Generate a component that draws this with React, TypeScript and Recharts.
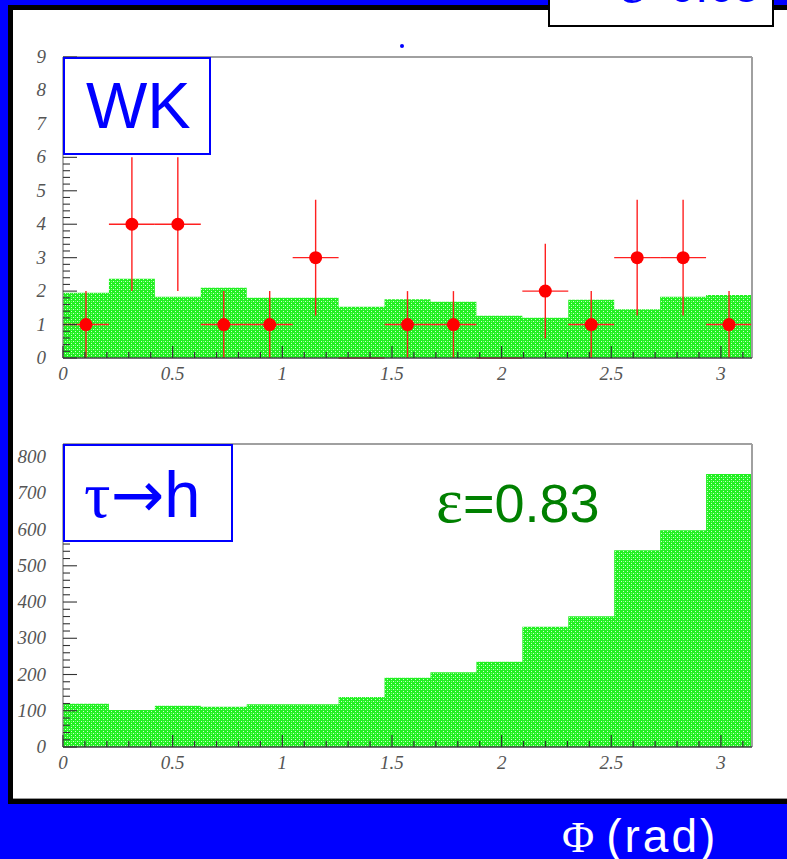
import React from 'react';
import { ComposedChart, Area, Scatter, ErrorBar, XAxis, YAxis, ReferenceLine } from 'recharts';

const PHI_MAX = Math.PI;

// WK panel: observed counts per bin (15 bins over 0..pi) and expected background histogram
const wkCounts = [1, 4, 4, 1, 1, 3, 0, 1, 1, 0, 2, 1, 3, 3, 1];
const wkExpected = [1.95, 2.37, 1.83, 2.1, 1.8, 1.8, 1.53, 1.76, 1.68, 1.26, 1.2, 1.74, 1.46, 1.83, 1.88];

// tau -> h panel histogram
const tauHadrons = [119, 102, 114, 111, 118, 118, 138, 191, 206, 235, 332, 361, 543, 598, 753];

// axis ticks
const xMajorTicks = [0, 0.5, 1, 1.5, 2, 2.5, 3];
const xMinorStep = 0.1;
const wkYMajorTicks = [0, 1, 2, 3, 4, 5, 6, 7, 8, 9];
const wkYMinorStep = 0.2;
const wkYMax = 9;
const tauYMajorTicks = [0, 100, 200, 300, 400, 500, 600, 700, 800];
const tauYMinorStep = 20;
const tauYMax = 836;

function steps(max: number, step: number): number[] {
  const out: number[] = [];
  for (let i = 0; i * step <= max + 1e-9; i++) out.push(Math.round(i * step * 1000) / 1000);
  return out;
}

function histData(values: number[]) {
  const w = PHI_MAX / values.length;
  const out = values.map((v, i) => ({ x: i * w, h: v }));
  out.push({ x: PHI_MAX, h: values[values.length - 1] });
  return out;
}

function pointData(counts: number[]) {
  const w = PHI_MAX / counts.length;
  return counts.map((n, i) => ({ x: (i + 0.5) * w, n, ex: w / 2, ey: Math.sqrt(n) }));
}

const isMajor = (list: number[], v: number) => list.some((m) => Math.abs(m - v) < 1e-6);

const labelStyle = {
  fontFamily: '"Liberation Serif", serif',
  fontStyle: 'italic' as const,
  fontSize: 19,
  fill: '#555',
};

const XTick = (props: any) => {
  const { x, y, payload } = props;
  const v = payload.value;
  const major = isMajor(xMajorTicks, v);
  return (
    <g>
      <line x1={x} x2={x} y1={y} y2={y - (major ? 12 : 6)} stroke="#333" strokeWidth={1.2} />
      {major && (
        <text x={x} y={y + 22} textAnchor="middle" {...labelStyle}>
          {String(v)}
        </text>
      )}
    </g>
  );
};

const makeYTick = (majors: number[]) => (props: any) => {
  const { x, y, payload } = props;
  const v = payload.value;
  const major = isMajor(majors, v);
  return (
    <g>
      <line x1={x} x2={x + (major ? 14 : 7)} y1={y} y2={y} stroke="#333" strokeWidth={1.1} />
      {major && (
        <text x={x - 17} y={y + 6} textAnchor="end" {...labelStyle}>
          {String(v)}
        </text>
      )}
    </g>
  );
};

const RedDot = (props: any) => {
  const { cx, cy, payload } = props;
  if (!payload || payload.n <= 0) return <g />;
  return <circle cx={cx} cy={cy} r={6.5} fill="#ff0000" />;
};

const NoShape = () => <g />;

const Pattern = ({ id }: { id: string }) => (
  <defs>
    <pattern id={id} width="4" height="4" patternUnits="userSpaceOnUse">
      <rect width="4" height="4" fill="#22f022" />
      <rect x="1" y="1" width="1" height="1" fill="#d0ffd0" />
      <rect x="3" y="3" width="1" height="1" fill="#d0ffd0" />
      <rect x="3" y="1" width="1" height="1" fill="#70ff70" />
    </pattern>
  </defs>
);

const xTicks = steps(3.1, xMinorStep);

export default function App() {
  const wkHist = histData(wkExpected);
  const wkPts = pointData(wkCounts);
  const tauHist = histData(tauHadrons);

  return (
    <div style={{ position: 'absolute', left: 0, top: 0, width: 787, height: 859, background: '#0000ff', overflow: 'hidden' }}>
      <div
        style={{
          position: 'absolute',
          left: 8,
          top: 5,
          width: 800,
          height: 789,
          border: '5px solid #000',
          background: '#fff',
          boxShadow: 'inset 0 -1px 0 #999',
        }}
      />

      <div style={{ position: 'absolute', left: 0, top: 0 }}>
        <ComposedChart width={787} height={400} margin={{ top: 57, right: 35, bottom: 41, left: 62 }}>
          <Pattern id="greenTop" />
          <Area
            data={wkHist}
            dataKey="h"
            type="stepAfter"
            fill="url(#greenTop)"
            fillOpacity={1}
            stroke="none"
            isAnimationActive={false}
          />
          <Scatter data={wkPts} dataKey="n" shape={NoShape} isAnimationActive={false}>
            <ErrorBar dataKey="ex" direction="x" width={0} stroke="#ff2020" strokeWidth={1.4} />
            <ErrorBar dataKey="ey" direction="y" width={0} stroke="#ff2020" strokeWidth={1.4} />
          </Scatter>
          <Scatter data={wkPts} dataKey="n" shape={RedDot} isAnimationActive={false} />
          <XAxis
            dataKey="x"
            type="number"
            domain={[0, PHI_MAX]}
            ticks={xTicks}
            interval={0}
            tickSize={0}
            tickMargin={0}
            height={1}
            tick={XTick}
            axisLine={{ stroke: '#444', strokeWidth: 1.5 }}
            allowDataOverflow
          />
          <YAxis
            type="number"
            domain={[0, wkYMax]}
            ticks={steps(wkYMax, wkYMinorStep)}
            interval={0}
            tickSize={0}
            tickMargin={0}
            width={1}
            tick={makeYTick(wkYMajorTicks)}
            axisLine={{ stroke: '#777', strokeWidth: 1.2 }}
            allowDataOverflow
          />
          <ReferenceLine y={wkYMax} stroke="#a0a0a0" strokeWidth={2} />
          <ReferenceLine x={PHI_MAX} stroke="#a0a0a0" strokeWidth={2} />
        </ComposedChart>
      </div>

      <div style={{ position: 'absolute', left: 0, top: 400 }}>
        <ComposedChart width={787} height={400} margin={{ top: 44, right: 35, bottom: 52, left: 62 }}>
          <Pattern id="greenBottom" />
          <Area
            data={tauHist}
            dataKey="h"
            type="stepAfter"
            fill="url(#greenBottom)"
            fillOpacity={1}
            stroke="none"
            isAnimationActive={false}
          />
          <XAxis
            dataKey="x"
            type="number"
            domain={[0, PHI_MAX]}
            ticks={xTicks}
            interval={0}
            tickSize={0}
            tickMargin={0}
            height={1}
            tick={XTick}
            axisLine={{ stroke: '#444', strokeWidth: 1.5 }}
            allowDataOverflow
          />
          <YAxis
            type="number"
            domain={[0, tauYMax]}
            ticks={steps(800, tauYMinorStep)}
            interval={0}
            tickSize={0}
            tickMargin={0}
            width={1}
            tick={makeYTick(tauYMajorTicks)}
            axisLine={{ stroke: '#777', strokeWidth: 1.2 }}
            allowDataOverflow
          />
          <ReferenceLine y={tauYMax} stroke="#a0a0a0" strokeWidth={2} />
          <ReferenceLine x={PHI_MAX} stroke="#a0a0a0" strokeWidth={2} />
        </ComposedChart>
      </div>

      <svg width={787} height={859} style={{ position: 'absolute', left: 0, top: 0, pointerEvents: 'none' }}>
        <rect x={549} y={-3} width={224} height={29} fill="#fff" stroke="#000" strokeWidth={2} />
        <svg x={550} y={0} width={222} height={25} overflow="hidden">
          <text x={70} y={2} fontFamily='"Liberation Sans", sans-serif' fontSize={46} fill="#0000ff">
            <tspan fontFamily='"Liberation Serif", serif' fontSize={54}>ε</tspan>=0.63
          </text>
        </svg>
        <circle cx={402} cy={46} r={2} fill="#0000ff" />

        <rect x={64} y={58} width={146} height={96} fill="#fff" stroke="#0000ff" strokeWidth={2} />
        <text x={86} y={128} fontFamily='"Liberation Sans", sans-serif' fontSize={65} fill="#0000ff">WK</text>

        <rect x={64} y={445} width={168} height={96} fill="#fff" stroke="#0000ff" strokeWidth={2} />
        <text x={84} y={517} fill="#0000ff" fontSize={65} fontFamily='"Liberation Sans", sans-serif'>
          <tspan fontFamily='"Liberation Serif", serif' fontSize={66}>τ</tspan>
          <tspan fontFamily='"DejaVu Sans", sans-serif' fontSize={64}>→</tspan>
          <tspan>h</tspan>
        </text>

        <text x={436} y={522} fill="#008000" fontSize={54} fontFamily='"Liberation Sans", sans-serif'>
          <tspan fontFamily='"Liberation Serif", serif' fontSize={64}>ε</tspan>=0.83
        </text>

        <text x={562} y={852} fill="#ffffff" fontSize={46} fontFamily='"Liberation Sans", sans-serif'>
          <tspan fontFamily='"Liberation Serif", serif' fontSize={44}>Φ</tspan>
          <tspan dx={12} letterSpacing={3}>(rad)</tspan>
        </text>
      </svg>
    </div>
  );
}
